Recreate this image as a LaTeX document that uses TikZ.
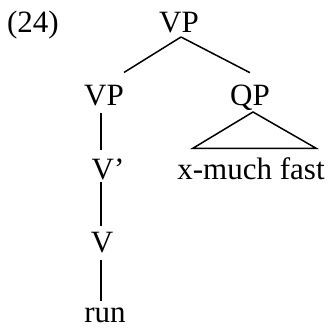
\documentclass[tikz,border=0pt]{standalone}
\usepackage{fontspec}
\setmainfont{Liberation Serif}
\usetikzlibrary{calc}
\tikzset{lab/.style={anchor=base, inner sep=0pt, font=\fontsize{31}{36}\selectfont}}
\begin{document}
\begin{tikzpicture}[x=1pt, y=1pt, line width=1.5pt]
\useasboundingbox (0,0) rectangle (328,329);
\node[lab] (ex) at (33, 296) {(24)};
\node[lab] (vp) at (179, 296) {VP};
\node[lab] (vpl) at (104, 223) {VP};
\node[lab] (qp) at (250, 223) {QP};
\node[lab] (vbar) at (108, 149) {V’};
\node[lab] (xmf) at (251, 149) {x-much fast};
\node[lab] (v) at (102, 76) {V};
\node[lab] (run) at (105, 6) {run};
\draw ($(vp.base)+(2,-4)$) -- ($(vpl.north)+(20,12.5)$);
\draw ($(vp.base)+(2,-4)$) -- ($(qp.north)+(0,12)$);
\draw ($(vpl.base)+(-3,-7)$) -- ($(vbar.north)+(-7,9)$);
\draw ($(vbar.base)+(-7,-2)$) -- ($(v.north)+(-1,5.5)$);
\draw ($(v.base)+(-1,-7)$) -- ($(run.north)+(-4,7)$);
\draw ($(qp.base)+(3,-6)$) -- ($(xmf.north west)+(16,9)$) -- ($(xmf.north east)+(-9,9)$) -- cycle;
\end{tikzpicture}
\end{document}
